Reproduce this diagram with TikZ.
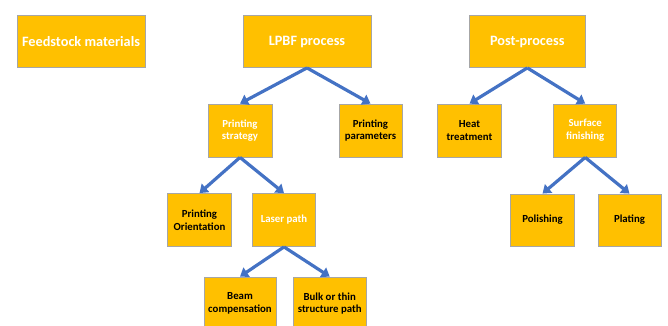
\documentclass[tikz,border=0pt]{standalone}
\usepackage{fontspec}
\setmainfont{Carlito}
\usetikzlibrary{arrows.meta}
\definecolor{boxfill}{HTML}{FFC000}
\definecolor{boxline}{HTML}{A6A6A6}
\definecolor{arrowblue}{HTML}{4472C4}
\tikzset{
  box/.style={draw=boxline, line width=0.8pt, fill=boxfill, align=center, inner sep=1pt, font=\bfseries\fontsize{10.8}{12.7}\selectfont},
  bigbox/.style={box, font=\bfseries\fontsize{14.3}{16}\selectfont},
  wtext/.style={text=white},
  ktext/.style={text=black},
  conn/.style={draw=arrowblue, line width=3.2pt, -{Triangle[length=8pt,width=11pt]}}
}
\begin{document}
\begin{tikzpicture}[x=1pt,y=-1pt]
\useasboundingbox (0,0) rectangle (668,325);
\clip (0,0) rectangle (668,325);
\node[bigbox,wtext,minimum width=128pt,minimum height=52pt] (feed) at (81,41.5) {Feedstock materials};
\node[bigbox,wtext,minimum width=128pt,minimum height=52pt] (lpbf) at (307,41.5) {LPBF process};
\node[bigbox,wtext,minimum width=116pt,minimum height=52pt] (post) at (527.3,41.5) {Post-process};
\node[box,wtext,minimum width=64pt,minimum height=53pt] (strat) at (240,130.5) {Printing\\strategy};
\node[box,ktext,minimum width=63pt,minimum height=53pt] (param) at (370.5,130.5) {Printing\\parameters};
\node[box,ktext,minimum width=63.6pt,minimum height=53pt] (heat) at (469.5,130.5) {Heat\\treatment};
\node[box,wtext,minimum width=63pt,minimum height=53pt] (surf) at (585.2,130.5) {Surface\\finishing};
\node[box,ktext,minimum width=63.6pt,minimum height=53pt] (orient) at (199.5,220) {Printing\\Orientation};
\node[box,wtext,minimum width=63.4pt,minimum height=53pt] (laser) at (284,220) {Laser path};
\node[box,ktext,minimum width=72pt,minimum height=53pt] (beam) at (240,303.5) {Beam\\compensation};
\node[box,ktext,minimum width=72.7pt,minimum height=53pt] (bulk) at (329.7,303.5) {Bulk or thin\\structure path};
\node[box,ktext,minimum width=63.6pt,minimum height=52pt] (polish) at (542.5,220) {Polishing};
\node[box,ktext,minimum width=63pt,minimum height=52pt] (plate) at (629.5,220) {Plating};
\draw[conn] (lpbf.south) -- (strat.north);
\draw[conn] (lpbf.south) -- (param.north);
\draw[conn] (post.south) -- (heat.north);
\draw[conn] (post.south) -- (surf.north);
\draw[conn] (strat.south) -- (orient.north);
\draw[conn] (strat.south) -- (laser.north);
\draw[conn] (laser.south) -- (beam.north);
\draw[conn] (laser.south) -- (bulk.north);
\draw[conn] (surf.south) -- (polish.north);
\draw[conn] (surf.south) -- (plate.north);
\end{tikzpicture}
\end{document}
